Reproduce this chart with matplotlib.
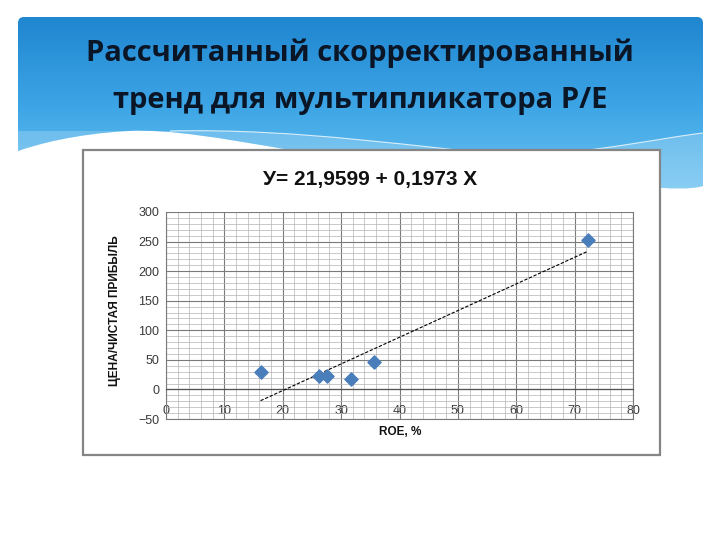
import numpy as np
import matplotlib
matplotlib.use("Agg")
import matplotlib.pyplot as plt
from matplotlib.path import Path
from matplotlib.patches import PathPatch, Rectangle
from matplotlib.colors import LinearSegmentedColormap
from matplotlib.ticker import MultipleLocator

# data
roe = [16.2, 26.2, 27.5, 31.7, 35.6, 72.3]
pe_ratio = [30, 22, 22, 18, 47, 253]
y_ticks = [-50, 0, 50, 100, 150, 200, 250, 300]
x_ticks = [0, 10, 20, 30, 40, 50, 60, 70, 80]

slide_title = "Рассчитанный скорректированный\nтренд для мультипликатора P/E"
chart_title = "У= 21,9599 + 0,1973 X"
x_label = "ROE, %"
y_label = "ЦЕНА/ЧИСТАЯ ПРИБЫЛЬ"

fig = plt.figure(figsize=(7.2, 5.4), dpi=100)
fig.patch.set_facecolor("white")

# background layer in pixel coords
bg = fig.add_axes([0, 0, 1, 1], zorder=0)
bg.set_xlim(0, 720)
bg.set_ylim(540, 0)
bg.axis("off")

M, C3, C4, L, CL = Path.MOVETO, Path.CURVE3, Path.CURVE4, Path.LINETO, Path.CLOSEPOLY
header_verts = [(18, 23), (18, 17), (24, 17), (697, 17), (703, 17), (703, 23),
                (703, 186), (660, 200), (420, 150), (290, 150),
                (220, 138), (170, 129), (128, 131),
                (75, 134), (38, 144), (18, 151), (18, 23)]
header_codes = [M, C3, C3, L, C3, C3, L, C4, C4, C4, C4, C4, C4, C4, C4, C4, CL]
header = PathPatch(Path(header_verts, header_codes), facecolor="none", edgecolor="none")
bg.add_patch(header)

cmap = LinearSegmentedColormap.from_list("hdr", ["#1f86d0", "#3ea6e6", "#72c6f2"])
grad = np.linspace(0, 1, 256).reshape(-1, 1)
img = bg.imshow(grad, cmap=cmap, extent=(18, 703, 200, 17), aspect="auto", zorder=1)
img.set_clip_path(header)

# lighter wave band near the bottom of the header
band_verts = [(170, 131), (300, 128), (420, 148), (520, 156),
              (600, 152), (660, 138), (703, 133),
              (703, 200), (18, 200), (18, 131), (170, 131)]
band_codes = [M, C4, C4, C4, C4, C4, C4, L, L, L, CL]
band = PathPatch(Path(band_verts, band_codes), facecolor="white", alpha=0.2,
                 edgecolor="none", zorder=2)
bg.add_patch(band)
band.set_clip_path(header)
wave = PathPatch(Path(band_verts[:7], band_codes[:7]), facecolor="none",
                 edgecolor="white", lw=0.8, alpha=0.75, zorder=3)
bg.add_patch(wave)
wave.set_clip_path(header)

bg.text(360, 77, slide_title, ha="center", va="center", fontsize=21,
        family="Open Sans", fontweight="bold", color="#0a1526",
        linespacing=1.82, zorder=4)

# chart frame
bg.add_patch(Rectangle((83, 150), 577, 305, facecolor="white",
                       edgecolor="#858585", lw=1.6, zorder=5))
bg.text(370, 180, chart_title, ha="center", va="center", fontsize=15,
        family="Liberation Sans", fontweight="bold", color="#111111", zorder=6)
bg.text(115, 311, y_label, ha="center", va="center", rotation=90, fontsize=8.6,
        family="Liberation Sans", fontweight="bold", color="#111111", zorder=6)
bg.text(400, 432, x_label, ha="center", va="center", fontsize=8.5,
        family="Liberation Sans", fontweight="bold", color="#111111", zorder=6)

# plot
ax = fig.add_axes([166 / 720, 1 - 419 / 540, 467 / 720, 207 / 540], zorder=10)
ax.patch.set_alpha(0)
ax.set_xlim(0, 80)
ax.set_ylim(-50, 300)
ax.set_xticks(x_ticks)
ax.set_yticks(y_ticks)
ax.xaxis.set_minor_locator(MultipleLocator(2))
ax.yaxis.set_minor_locator(MultipleLocator(10))
ax.grid(which="major", color="#7a7a7a", lw=0.8)
ax.grid(which="minor", color="#b4b4b4", lw=0.5)
ax.set_axisbelow(True)

ax.spines["top"].set_visible(False)
for s in ("left", "right"):
    ax.spines[s].set_color("#7a7a7a")
    ax.spines[s].set_linewidth(0.8)
ax.spines["bottom"].set_position(("data", 0))
ax.spines["bottom"].set_color("#555555")
ax.spines["bottom"].set_linewidth(0.9)
ax.axhline(-50, color="#7a7a7a", lw=0.8, clip_on=False)

ax.tick_params(which="both", length=0)
ax.tick_params(axis="x", pad=11, labelsize=9, labelcolor="#3a3a3a")
ax.tick_params(axis="y", pad=5, labelsize=9, labelcolor="#3a3a3a")
for lab in ax.get_xticklabels() + ax.get_yticklabels():
    lab.set_family("Liberation Sans")

# least-squares trend line across the data range
k, b = np.polyfit(roe, pe_ratio, 1)
xs = np.array([min(roe), max(roe)])
ax.plot(xs, k * xs + b, color="black", lw=0.8, ls=(0, (3, 1.5)), zorder=3)

ax.scatter(roe, pe_ratio, marker="D", s=45, color="#4a7ebb",
           edgecolor="#4a7ebb", zorder=4, clip_on=False)

fig.savefig("out.png", dpi=100)
